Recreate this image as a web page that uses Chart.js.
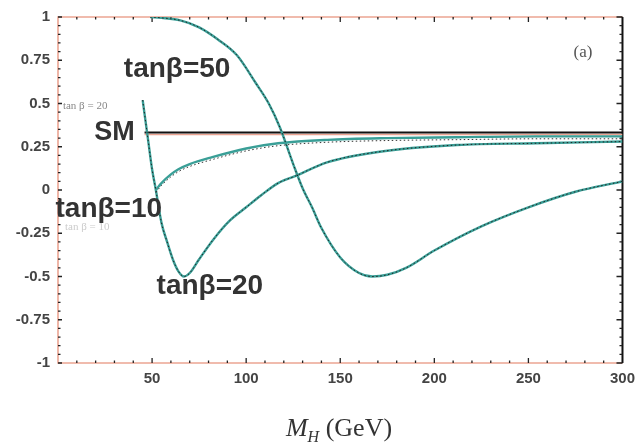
<!DOCTYPE html>
<html>
<head>
<meta charset="utf-8">
<script src="https://cdn.jsdelivr.net/npm/chart.js@4/dist/chart.umd.min.js"></script>
<style>
  html, body { margin: 0; padding: 0; background: #fff; }
  #wrap { position: relative; width: 642px; height: 447px; }
  #xTitle {
    position: absolute; left: 0; width: 678px; top: 413px; text-align: center;
    font-family: 'Liberation Serif', 'DejaVu Serif', serif; font-size: 26px; color: #333;
  }
  #xTitle sub { font-size: 16px; font-style: italic; }
</style>
</head>
<body>
<div id="wrap">
  <canvas id="chart" width="642" height="447"></canvas>
  <div id="xTitle"><i>M</i><sub>H</sub> (GeV)</div>
</div>
<script>
// values
const yTickLabels = ['1', '0.75', '0.5', '0.25', '0', '-0.25', '-0.5', '-0.75', '-1'];
const xTickLabels = ['50', '100', '150', '200', '250', '300'];

const massSM = [46, 300];
const smValues = [0.333, 0.333];

const mass50 = [49, 55, 65, 75, 85, 95, 105, 112, 118, 125, 130, 135, 140, 150, 160, 167, 175, 185, 200, 225, 250, 275, 300];
const tanb50 = [1.0, 0.995, 0.98, 0.94, 0.87, 0.78, 0.62, 0.50, 0.36, 0.15, 0.01, -0.10, -0.22, -0.39, -0.48, -0.50, -0.49, -0.45, -0.35, -0.21, -0.10, -0.01, 0.05];

const mass20 = [45, 48, 50, 52, 55, 58, 61, 64, 67, 70, 75, 83, 91, 100, 108, 117, 126, 143, 170, 212, 254, 300];
const tanb20 = [0.52, 0.28, 0.12, 0.0, -0.19, -0.30, -0.40, -0.47, -0.50, -0.48, -0.40, -0.28, -0.18, -0.10, -0.03, 0.04, 0.08, 0.16, 0.22, 0.26, 0.27, 0.28];

const mass10 = [52, 55, 60, 64, 70, 82, 100, 117, 143, 175, 212, 254, 300];
const tanb10 = [0.0, 0.04, 0.09, 0.12, 0.15, 0.19, 0.24, 0.27, 0.29, 0.30, 0.305, 0.31, 0.31];

const pts = (xs, ys) => xs.map((x, i) => ({ x: x, y: ys[i] }));

const teal = '#3a9f97';
const salmon = '#eca593';

// order: lower number is drawn on top
function curve(label, xs, ys, color, width, dash, order) {
  return {
    label: label,
    data: pts(xs, ys),
    borderColor: color,
    borderWidth: width,
    borderDash: dash || [],
    pointRadius: 0,
    cubicInterpolationMode: 'monotone',
    fill: false,
    order: order,
  };
}

// text placed in data coordinates
const notes = [
  { text: 'tanβ=50', x: 63.3, y: 0.70, font: 'bold 28px "Liberation Sans", Arial, sans-serif', color: '#333', align: 'center' },
  { text: 'SM', x: 30, y: 0.33, font: 'bold 27px "Liberation Sans", Arial, sans-serif', color: '#333', align: 'center' },
  { text: 'tanβ=10', x: 27, y: -0.11, font: 'bold 28px "Liberation Sans", Arial, sans-serif', color: '#333', align: 'center' },
  { text: 'tanβ=20', x: 80.7, y: -0.555, font: 'bold 28px "Liberation Sans", Arial, sans-serif', color: '#333', align: 'center' },
  { text: 'tan β = 20', x: 2.6, y: 0.485, font: '11px "Liberation Serif", serif', color: '#888', align: 'left' },
  { text: 'tan β = 10', x: 3.7, y: -0.215, font: '11px "Liberation Serif", serif', color: '#ccc', align: 'left' },
  { text: '(a)', x: 279, y: 0.795, font: '17px "Liberation Serif", serif', color: '#555', align: 'center' },
];

const framePlugin = {
  id: 'frame',
  beforeDatasetsDraw(chart) {
    const { ctx, chartArea: a, scales } = chart;
    ctx.save();
    ctx.lineWidth = 1.6;
    ctx.strokeStyle = salmon;
    ctx.beginPath();
    ctx.moveTo(a.right, a.top); ctx.lineTo(a.left, a.top);
    ctx.lineTo(a.left, a.bottom); ctx.lineTo(a.right, a.bottom);
    ctx.stroke();
    ctx.strokeStyle = '#111';
    ctx.lineWidth = 2;
    ctx.beginPath();
    ctx.moveTo(a.right, a.top); ctx.lineTo(a.right, a.bottom);
    ctx.stroke();

    ctx.lineWidth = 1.3;
    for (let v = -1; v <= 1.001; v += 0.05) {
      const py = scales.y.getPixelForValue(v);
      const major = Math.abs(v * 4 - Math.round(v * 4)) < 0.01;
      ctx.strokeStyle = '#222';
      ctx.beginPath();
      ctx.moveTo(a.left, py); ctx.lineTo(a.left + (major ? 4 : 2.5), py);
      ctx.moveTo(a.right, py); ctx.lineTo(a.right - (major ? 6 : 3), py);
      ctx.stroke();
    }
    for (let m = 10; m < 300; m += 10) {
      const px = scales.x.getPixelForValue(m);
      const major = m % 50 === 0;
      ctx.beginPath();
      ctx.moveTo(px, a.bottom); ctx.lineTo(px, a.bottom - (major ? 5 : 2.5));
      ctx.moveTo(px, a.top); ctx.lineTo(px, a.top + (major ? 5 : 2.5));
      ctx.stroke();
    }
    ctx.restore();
  },
  afterDraw(chart) {
    const { ctx, scales } = chart;
    ctx.save();
    ctx.textBaseline = 'middle';
    notes.forEach(n => {
      ctx.font = n.font;
      ctx.fillStyle = n.color;
      ctx.textAlign = n.align;
      ctx.fillText(n.text, scales.x.getPixelForValue(n.x), scales.y.getPixelForValue(n.y));
    });
    ctx.restore();
  },
};

const tickFont = { family: '"Liberation Sans", Arial, sans-serif', size: 15, weight: 'bold' };

new Chart(document.getElementById('chart'), {
  type: 'line',
  data: {
    datasets: [
      curve('SM ref', massSM, smValues.map(v => v - 0.012), salmon, 1.5, null, 6),
      curve('SM', massSM, smValues, '#111', 2, null, 5),
      curve('tanβ=10', mass10, tanb10, teal, 2.4, null, 4),
      curve('tanβ=20', mass20, tanb20, teal, 2.4, null, 4),
      curve('tanβ=50', mass50, tanb50, teal, 2.4, null, 4),
      curve('tanβ=10 approx', mass10, tanb10.map(v => v - 0.014), '#333', 1, [1.5, 2.5], 1),
      curve('tanβ=20 approx', mass20, tanb20, '#222', 1, [1.5, 2.5], 1),
      curve('tanβ=50 approx', mass50, tanb50, '#222', 1, [1.5, 2.5], 1),
    ],
  },
  options: {
    responsive: false,
    animation: false,
    layout: { padding: { top: 14, right: 15, left: 0, bottom: 0 } },
    plugins: { legend: { display: false }, tooltip: { enabled: false } },
    scales: {
      x: {
        type: 'linear', min: 0, max: 300,
        afterFit: s => { s.height = 84; },
        afterBuildTicks: s => { s.ticks = xTickLabels.map(t => ({ value: Number(t) })); },
        ticks: {
          padding: 7, color: '#444', maxRotation: 0, font: tickFont,
          callback: v => xTickLabels.includes(String(v)) ? String(v) : '',
        },
        grid: { display: false, drawTicks: false },
        border: { display: false },
      },
      y: {
        min: -1, max: 1,
        afterFit: s => { s.width = 58; },
        afterBuildTicks: s => { s.ticks = yTickLabels.map(t => ({ value: Number(t) })); },
        ticks: {
          padding: 8, color: '#444', font: tickFont,
          callback: v => yTickLabels.find(t => Number(t) === v) || '',
        },
        grid: { display: false, drawTicks: false },
        border: { display: false },
      },
    },
  },
  plugins: [framePlugin],
});
</script>
</body>
</html>
